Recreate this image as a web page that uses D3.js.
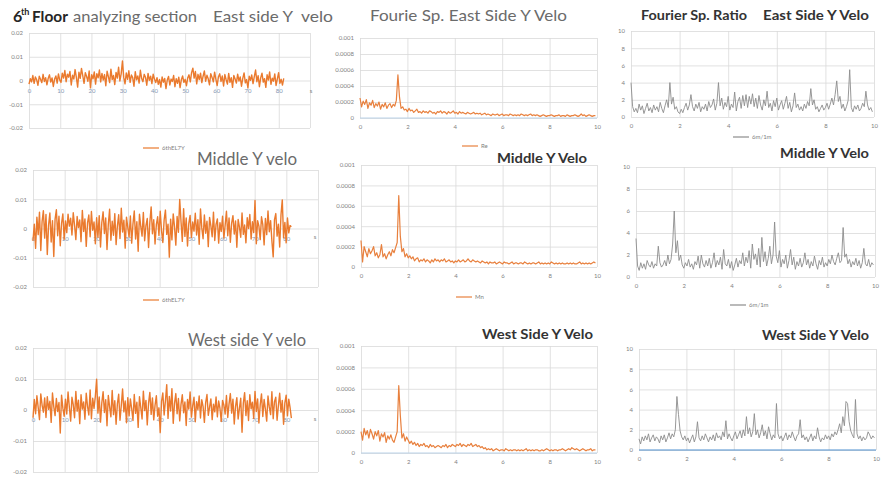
<!DOCTYPE html>
<html>
<head>
<meta charset="utf-8">
<script src="https://cdn.jsdelivr.net/npm/d3@7"></script>
<style>
  body { margin: 0; background: #fff; }
  svg { display: block; }
  text { font-family: Lato, "Open Sans", "Liberation Sans", sans-serif; white-space: pre; }
</style>
</head>
<body>
<svg id="chart" width="883" height="478"></svg>
<script>
// ---- axes ----
const timeStep = 0.41;                       // s between velocity samples
const timeTicks = [0, 10, 20, 30, 40, 50, 60, 70, 80, 90];
const timeTickLabels = ["0", "10", "20", "30", "40", "50", "60", "70", "80", ""];
const veloTicks = [-0.02, -0.01, 0, 0.01, 0.02];
const veloTickLabels = ["-0.02", "-0.01", "0", "0.01", "0.02"];

const freqStep = 10 / 150;                   // Hz between spectral lines
const freqTicks = [0, 2, 4, 6, 8, 10];
const specTicks = [0, 0.0002, 0.0004, 0.0006, 0.0008, 0.001];
const specTickLabels = ["0", "0.0002", "0.0004", "0.0006", "0.0008", "0.001"];
const ratioTicks = [0, 2, 4, 6, 8, 10];

// ---- velocity records, 6th floor (units of 0.001) ----
const eastVelo = [
  -1.5, 0.8, -0.6, 2.1, -1.2, 1.5, 0.3, -2.0, 1.8, 0.5, -0.9, 2.6, -0.4, 1.2, -1.8, 0.9, 2.4, -0.7, 1.1, -2.5, 0.6, 1.9, -1.1, 2.8, 0.2,
  -0.8, 3.1, 1.0, 4.2, -0.5, 2.7, 1.4, 3.8, -1.9, 2.2, 0.6, 4.6, 1.3, -2.8, 3.5, 0.9, 5.1, 2.0, -1.2, 3.3, 1.7, -0.3, 4.0, -3.1, 2.4,
  0.7, 3.6, -1.5, 2.9, 1.1, 4.4, -0.6, 3.0, 0.2, 2.5, -2.2, 3.9, 1.6, -0.9, 4.8, 0.4, 2.1, -1.7, 3.4, 1.0, 5.6, -0.2, 2.8, 8.2, 1.3,
  -1.4, 3.2, 0.5, 4.1, -0.8, 2.3, 1.2, -2.4, 3.7, 0.3, 1.9, -1.1, 4.3, 0.8, -0.5, 2.6, 1.4, -2.0, 3.0, 0.1, 1.8, -1.3, 2.7, 0.6, -0.9,
  1.2, -1.6, 0.4, -2.8, 1.5, -0.7, 0.9, -3.4, 0.2, 1.7, -1.9, 0.6, -0.4, 2.1, -2.6, 0.8, -1.2, 1.4, -3.0, 0.3, 1.9, -0.8, 0.5, -2.2, 1.1,
  2.4, -0.6, 3.3, 5.2, 1.0, 3.8, -1.4, 2.6, 0.4, 3.1, -0.9, 1.8, 4.0, -0.3, 2.2, 0.7, -1.8, 2.9, 1.3, -0.6, 3.5, 0.5, -2.1, 1.6, 2.8,
  -0.4, 1.9, -2.3, 2.5, 0.3, -1.5, 3.0, -0.8, 1.2, -2.9, 2.1, 0.6, -1.1, 2.7, -0.2, 1.5, -2.4, 0.9, 3.2, -1.0, 0.4, -3.1, 1.8, 0.1, 2.3,
  -1.3, 1.6, 4.4, -0.5, 2.0, -2.6, 1.1, 3.1, -0.7, 0.8, -2.9, 2.4, 0.2, 3.6, -1.6, 1.0, -0.3, 2.8, -2.1, 0.7, 3.3, -1.2, 0.5, -1.9, 0.9
];
const middleVelo = [
  -4.2, 1.5, -6.8, 3.9, -2.1, 5.6, -7.5, 2.4, 6.1, -3.3, 4.8, -8.9, 1.2, 5.3, -4.6, 2.7, -9.6, 3.1, 6.4, -2.5, 4.2, -5.9, 1.8, 5.0, -3.7,
  2.6, -1.4, 4.9, 0.8, 3.5, -2.2, 5.4, 1.1, -3.8, 4.1, 0.3, 2.9, -4.5, 6.2, -1.0, 3.3, -6.1, 1.9, 4.6, -2.8, 5.8, -0.6, 2.2, -5.2, 3.7,
  -3.0, 4.4, -6.3, 2.0, 5.7, -1.7, 3.6, -7.2, 1.4, 6.6, -4.0, 2.5, -2.3, 5.1, -5.5, 0.9, 4.7, -3.4, 6.9, -1.2, 2.8, -6.7, 3.9, 0.4, -2.9,
  4.3, -5.0, 1.6, 6.0, -3.6, 2.3, -7.8, 4.9, 0.7, -2.6, 5.5, -4.2, 1.0, 3.4, -6.5, 2.1, 7.4, -1.8, 3.0, -5.3, 1.3, 4.0, -2.4, 5.9, -0.8,
  -4.8, 2.9, 6.3, -2.0, 1.5, -9.8, 3.2, -3.9, 5.0, 0.6, -5.7, 4.1, -1.3, 9.9, 2.4, -4.4, 6.8, -2.7, 3.6, -6.0, 1.7, 4.5, -3.1, 2.2, -0.9,
  5.2, -2.2, 3.0, -5.4, 6.7, 0.2, -3.5, 4.6, -1.6, 2.5, -6.2, 3.8, 0.9, -2.8, 5.6, -4.1, 1.4, 3.3, -5.0, 2.0, -1.0, 4.2, -3.3, 1.1, 5.9,
  -2.5, 3.6, -4.7, 1.8, 4.4, -1.9, 2.6, -6.4, 3.1, 0.5, -3.0, 5.3, -2.0, 1.2, -4.9, 3.7, 0.0, 4.8, -3.6, 2.3, -1.4, 9.6, -5.2, 2.7, 0.8,
  -3.8, 4.0, 1.3, -5.6, 3.4, -2.1, 6.0, -1.1, 2.7, -4.3, -9.7, 3.0, 5.1, -2.6, 1.5, -6.3, 4.6, 9.8, -3.2, 2.1, -4.9, 3.6, -1.5, 1.0, 0.6
];
const westVelo = [
  -2.5, 3.4, -1.2, 4.6, 0.8, -3.1, 5.2, 1.6, -0.7, 3.9, -2.4, 4.3, 0.2, 2.8, -4.0, 5.5, 1.1, -1.8, 3.7, -0.5, 2.4, -7.4, 4.8, 0.6, -2.0,
  3.5, -1.3, 5.8, 0.9, -3.6, 4.1, 1.7, -2.5, 6.0, -0.4, 3.2, -4.4, 4.9, 0.3, 2.6, -3.0, 5.4, 1.2, -1.6, 6.5, -2.8, 3.8, 0.5, 4.4, 9.9,
  -1.0, 4.2, -3.9, 2.3, 5.9, -0.8, 3.3, -5.1, 4.7, 1.0, -2.2, 6.3, -1.5, 3.0, -4.6, 2.0, 5.1, -3.3, 1.4, 6.8, -0.6, 2.9, -4.1, 4.0, -1.9,
  3.6, 0.4, -3.4, 5.0, -1.1, 2.5, -5.6, 4.3, 0.8, -2.9, 6.1, -0.2, 3.1, -4.8, 2.2, 5.7, -1.4, 3.9, -3.2, 1.5, 4.6, -2.0, 0.7, -7.3, 2.8,
  5.5, -1.6, 3.0, 8.2, -2.7, 4.4, -0.3, 6.9, -4.3, 2.1, 5.3, -1.2, 3.7, -3.5, 1.8, 4.9, -0.9, 2.6, -5.0, 3.4, 0.3, 5.8, -2.3, 1.3, 4.1,
  -3.8, 2.7, 0.1, 4.5, -2.6, 3.3, 1.1, -4.0, 2.4, 5.0, -1.7, 0.9, 3.6, -3.1, 1.9, -0.6, 4.2, -2.2, 2.9, 0.5, -3.7, 3.1, 1.6, -1.3, 4.7,
  -2.4, 2.0, 5.3, -1.0, 3.5, -4.5, 1.2, 4.0, -2.9, 0.6, 3.8, -7.2, 2.2, 5.6, -1.8, 3.0, -3.4, 4.9, 0.4, 2.5, -2.7, 6.0, -0.5, 3.6, -4.2,
  1.7, 5.2, -2.1, 3.4, 0.2, -3.6, 4.5, 1.0, -1.5, 5.9, -2.8, 2.7, 4.1, -3.3, 1.4, 5.4, -0.7, 3.1, -4.6, 2.3, 4.8, -1.9, 3.5, 0.8, -2.6
];

// ---- Fourier amplitude spectra (units of 0.00001) ----
const eastSpec = [
  25, 14, 21, 17, 23, 12, 19, 16, 22, 13, 18, 15, 20, 11, 17, 14, 19, 12, 16, 18, 13, 17, 15, 22, 54,
  26, 12, 14, 10, 11, 8, 12, 9, 10, 7, 9, 11, 7, 8, 6, 9, 7, 8, 6, 9, 8, 6, 7, 5, 8,
  7, 9, 6, 8, 7, 5, 8, 6, 7, 9, 6, 7, 5, 8, 6, 7, 6, 5, 7, 6, 5, 6, 7, 5, 6,
  5, 6, 4, 5, 6, 4, 5, 4, 3, 5, 4, 4, 5, 3, 4, 5, 3, 4, 4, 3, 5, 4, 3, 4, 3,
  4, 3, 5, 4, 3, 4, 3, 4, 5, 3, 4, 3, 4, 3, 2, 3, 4, 3, 2, 3, 3, 4, 3, 2, 3,
  3, 4, 2, 3, 3, 2, 4, 3, 2, 3, 3, 4, 3, 2, 3, 5, 3, 4, 2, 3, 4, 3, 2, 3, 3
];
const middleSpec = [
  26, 5, 20, 15, 10, 18, 13, 16, 20, 11, 14, 9, 12, 22, 10, 13, 8, 12, 15, 11, 17, 14, 19, 24, 70,
  30, 15, 18, 10, 13, 9, 11, 8, 10, 6, 8, 9, 5, 7, 6, 8, 5, 7, 6, 4, 7, 5, 8, 6, 7,
  5, 7, 6, 8, 5, 6, 7, 5, 6, 4, 6, 5, 7, 5, 6, 7, 5, 6, 8, 6, 5, 7, 6, 5, 6,
  5, 4, 6, 5, 4, 5, 3, 5, 4, 4, 5, 3, 4, 5, 4, 3, 5, 4, 4, 3, 4, 5, 3, 4, 4,
  3, 4, 4, 3, 5, 4, 3, 4, 3, 4, 4, 3, 4, 5, 3, 4, 3, 4, 3, 4, 3, 5, 4, 3, 4,
  3, 4, 3, 4, 3, 3, 4, 3, 4, 3, 4, 3, 3, 4, 5, 3, 4, 3, 4, 3, 4, 3, 4, 5, 4
];
const westSpec = [
  20, 12, 23, 17, 21, 14, 22, 18, 13, 20, 16, 21, 11, 18, 15, 19, 10, 16, 13, 17, 12, 10, 15, 20, 63,
  35, 14, 18, 11, 15, 12, 9, 11, 8, 10, 7, 9, 6, 8, 7, 9, 6, 7, 5, 8, 6, 7, 5, 6, 7,
  6, 5, 7, 6, 8, 5, 7, 6, 8, 7, 6, 8, 7, 9, 6, 8, 7, 6, 8, 7, 9, 6, 7, 8, 6,
  7, 5, 6, 4, 5, 3, 4, 3, 4, 2, 3, 4, 3, 2, 3, 3, 2, 4, 3, 2, 3, 2, 3, 3, 2,
  3, 2, 3, 2, 3, 4, 2, 3, 2, 3, 2, 3, 3, 2, 2, 3, 2, 3, 4, 3, 2, 3, 2, 3, 3,
  2, 3, 3, 4, 3, 2, 3, 4, 3, 5, 4, 3, 4, 3, 2, 3, 4, 3, 2, 3, 3, 4, 2, 3, 3
];

// ---- Fourier spectral ratios 6th floor / 1st floor ----
const eastRatio = [
  4.0, 1.2, 0.6, 1.0, 0.5, 1.5, 0.8, 1.3, 0.4, 1.0, 1.6, 0.7, 1.1, 0.5, 1.4,
  0.8, 1.2, 0.6, 1.7, 1.0, 0.5, 1.3, 2.0, 1.1, 4.0, 1.5, 2.3, 0.9, 1.2, 0.6,
  0.4, 0.9, 0.5, 1.1, 1.6, 0.8, 1.4, 2.6, 1.2, 0.7, 1.5, 1.0, 1.7, 0.6, 1.2,
  0.9, 1.5, 0.7, 1.8, 1.1, 1.4, 2.1, 0.8, 1.6, 4.0, 1.3, 2.2, 0.9, 1.7, 1.2,
  2.4, 0.8, 1.5, 1.1, 2.9, 0.7, 1.8, 2.3, 1.0, 2.5, 1.3, 2.6, 1.1, 2.4, 1.5,
  2.7, 1.2, 2.2, 1.0, 2.5, 1.4, 0.8, 2.0, 1.3, 3.0, 1.1, 1.6, 0.7, 1.9, 1.2,
  2.2, 0.8, 1.4, 1.9, 0.9, 1.6, 2.4, 1.0, 1.7, 0.6, 1.3, 2.8, 1.1, 1.5, 0.8,
  1.2, 0.7, 1.5, 1.0, 1.8, 1.3, 3.3, 1.4, 2.0, 0.9, 1.2, 0.6, 1.0, 1.4, 0.8,
  1.1, 1.6, 0.9, 1.5, 2.2, 1.4, 2.6, 4.2, 1.8, 2.4, 1.0, 1.5, 0.7, 1.2, 1.9,
  5.5, 1.1, 0.6, 1.3, 0.9, 1.4, 0.7, 1.0, 1.6, 1.2, 3.0, 1.4, 0.8, 1.1, 0.6
];
const middleRatio = [
  3.5, 1.0, 0.6, 1.3, 0.8, 1.2, 0.7, 1.5, 1.1, 0.9, 1.4, 0.8, 1.2, 1.0, 2.8,
  1.3, 0.9, 1.1, 1.5, 1.0, 2.0, 1.2, 1.6, 3.0, 6.0, 2.2, 3.3, 1.5, 2.0, 1.1,
  0.8, 1.3, 1.0, 1.6, 0.9, 1.2, 0.7, 1.4, 1.1, 1.9, 0.8, 2.0, 1.2, 0.9, 1.5,
  1.0, 1.7, 0.8, 1.3, 2.2, 0.9, 1.5, 1.1, 1.8, 0.7, 2.5, 1.2, 1.0, 1.6, 0.8,
  1.4, 0.6, 1.1, 1.7, 0.9, 1.5, 1.2, 2.2, 1.0, 1.8, 1.3, 2.4, 0.8, 3.0, 1.6,
  2.1, 1.1, 2.6, 0.9, 3.6, 1.4, 2.3, 1.0, 1.7, 2.8, 1.2, 2.0, 5.0, 1.9, 1.3,
  2.4, 0.9, 1.6, 1.2, 2.0, 0.8, 1.5, 2.5, 1.1, 1.8, 0.7, 1.4, 1.0, 1.7, 0.9,
  1.3, 2.2, 1.1, 1.6, 0.8, 1.4, 1.0, 1.9, 1.2, 0.7, 1.5, 1.1, 1.8, 0.9, 1.3,
  1.0, 1.6, 1.2, 2.0, 1.4, 1.1, 1.7, 2.2, 1.3, 1.5, 4.5, 1.8, 2.1, 1.2, 1.6,
  0.9, 1.4, 1.1, 1.7, 1.0, 1.5, 0.8, 1.3, 2.6, 1.2, 1.0, 1.6, 0.9, 1.3, 1.1
];
const westRatio = [
  1.1, 0.6, 1.3, 0.9, 1.4, 1.0, 1.6, 0.8, 1.2, 1.5, 0.9, 1.3, 1.1, 0.7, 1.4,
  1.0, 1.5, 0.8, 1.2, 1.7, 1.1, 1.6, 1.3, 2.0, 5.3, 3.5, 1.9, 1.3, 1.0, 1.4,
  0.9, 1.2, 0.7, 1.1, 1.5, 0.8, 1.3, 2.8, 1.2, 0.9, 1.4, 1.0, 1.6, 1.2, 0.8,
  1.3, 1.0, 1.5, 0.9, 1.7, 1.2, 1.4, 1.0, 1.8, 1.3, 2.9, 1.1, 1.6, 1.2, 0.9,
  1.4, 1.8, 1.1, 1.5, 1.9, 1.2, 2.0, 1.4, 3.3, 1.6, 2.2, 1.3, 1.8, 3.6, 1.5,
  2.0, 1.2, 1.7, 2.5, 1.4, 1.9, 1.1, 2.3, 1.6, 1.0, 1.5, 1.2, 4.6, 1.6, 1.1,
  1.4, 0.9, 1.3, 1.7, 1.0, 1.5, 1.2, 1.8, 1.3, 0.9, 1.4, 1.6, 3.0, 1.2, 1.5,
  1.0, 1.3, 0.8, 1.2, 1.6, 0.9, 1.4, 1.1, 2.2, 1.3, 0.8, 1.2, 1.0, 1.5, 1.1,
  1.4, 1.0, 1.6, 1.3, 1.8, 1.5, 2.0, 2.6, 1.7, 3.3, 2.4, 4.8, 4.6, 2.8, 1.9,
  1.5, 1.2, 5.0, 1.6, 1.1, 1.4, 0.9, 1.3, 1.0, 1.2, 1.8, 1.5, 1.1, 1.4, 1.2
];

// ---- drawing ----
const svg = d3.select("#chart");
const ORANGE = "#ea7a2e";
const GRID = "#d9d9d9";
const TICK_TEXT = "#7f7f7f";

function styleAxis(sel, fontSize) {
  sel.select(".domain").remove();
  sel.selectAll(".tick line").attr("stroke", GRID).attr("stroke-width", 0.8);
  sel.selectAll(".tick text").attr("fill", TICK_TEXT).attr("font-size", fontSize);
}

function drawPanel(p) {
  const g = svg.append("g");
  const x = d3.scaleLinear().domain(p.xDomain).range([p.left, p.right]);
  const y = d3.scaleLinear().domain(p.yDomain).range([p.bottom, p.top]);

  // horizontal gridlines + value labels
  const yAxis = g.append("g").attr("transform", `translate(${p.left},0)`)
    .call(d3.axisLeft(y).tickValues(p.yTicks).tickSize(-(p.right - p.left))
      .tickPadding(6).tickFormat((d, i) => p.yLabels[i]));
  styleAxis(yAxis, 6);

  // vertical gridlines
  const xGrid = g.append("g").attr("transform", `translate(0,${p.bottom})`)
    .call(d3.axisBottom(x).tickValues(p.xTicks).tickSize(-(p.bottom - p.top)).tickFormat(""));
  styleAxis(xGrid, 6);

  // category labels: along the zero line for the velocity records, under the plot for spectra
  const labelY = p.labelsOnZero ? y(0) : p.bottom;
  const xLab = g.append("g").attr("transform", `translate(0,${labelY})`)
    .call(d3.axisBottom(x).tickValues(p.xTicks).tickSize(0).tickPadding(p.labelsOnZero ? 8 : 7)
      .tickFormat((d, i) => p.xLabels[i]));
  xLab.select(".domain").remove();
  xLab.selectAll(".tick text").attr("fill", p.labelsOnZero ? "#8597b3" : TICK_TEXT).attr("font-size", 6);

  if (p.baseline) {
    g.append("line").attr("x1", p.left).attr("x2", p.right)
      .attr("y1", y(0)).attr("y2", y(0)).attr("stroke", p.baseline).attr("stroke-width", 1.2);
  }

  const line = d3.line().x((d, i) => x(i * p.step)).y(d => y(d * p.unit));
  g.append("path").datum(p.values).attr("d", line)
    .attr("fill", "none").attr("stroke", p.color).attr("stroke-width", p.width)
    .attr("stroke-linejoin", "round");

  if (p.axisTitle) {
    g.append("text").attr("x", p.axisTitle[0]).attr("y", p.axisTitle[1])
      .attr("font-size", 6).attr("fill", TICK_TEXT).attr("text-anchor", "middle").text(p.axisTitle[2]);
  }

  if (p.legend) {
    const [lx, ly, name] = p.legend;
    g.append("line").attr("x1", lx).attr("x2", lx + 16).attr("y1", ly).attr("y2", ly)
      .attr("stroke", p.color).attr("stroke-width", 1.2);
    g.append("text").attr("x", lx + 19).attr("y", ly + 2).attr("font-size", 6)
      .attr("fill", TICK_TEXT).text(name);
  }
}

function title(x, y, str, size, opts = {}) {
  const t = svg.append("text").attr("x", x).attr("y", y).attr("font-size", size)
    .attr("fill", opts.fill || "#6b6b6b").attr("font-weight", opts.bold ? 700 : 400).text(str);
  if (opts.width) t.attr("textLength", opts.width).attr("lengthAdjust", "spacingAndGlyphs");
  return t;
}

const veloPanels = [
  { values: eastVelo,   left: 29, right: 310, top: 33,  bottom: 128, legend: [143, 148, "6thEL7Y"], axisTitle: [311, 93, "s"] },
  { values: middleVelo, left: 33, right: 318, top: 170, bottom: 287, legend: [143, 300, "6thEL7Y"], axisTitle: [315, 239, "s"] },
  { values: westVelo,   left: 33, right: 318, top: 348, bottom: 472, legend: null,                 axisTitle: [315, 421, "s"] }
];
veloPanels.forEach(p => drawPanel(Object.assign({
  xDomain: [0, 90], yDomain: [-0.02, 0.02], xTicks: timeTicks, xLabels: timeTickLabels,
  yTicks: veloTicks, yLabels: veloTickLabels, labelsOnZero: true,
  step: timeStep, unit: 0.001, color: ORANGE, width: 1.4
}, p)));

const specPanels = [
  { values: eastSpec,   left: 360, right: 597, top: 38,  bottom: 118, legend: [462, 146, "Re"], baseline: "#bcd3ea" },
  { values: middleSpec, left: 361, right: 597, top: 165, bottom: 267, legend: [456, 297, "Mn"] },
  { values: westSpec,   left: 361, right: 597, top: 346, bottom: 453, legend: null, baseline: "#bcd3ea" }
];
specPanels.forEach(p => drawPanel(Object.assign({
  xDomain: [0, 10], yDomain: [0, 0.001], xTicks: freqTicks, xLabels: freqTicks.map(String),
  yTicks: specTicks, yLabels: specTickLabels, labelsOnZero: false,
  step: freqStep, unit: 0.00001, color: "#e8803e", width: 1.2
}, p)));

const ratioPanels = [
  { values: eastRatio,   left: 631, right: 874, top: 31,  bottom: 117, legend: [733, 137, "6m/1m"] },
  { values: middleRatio, left: 636, right: 875, top: 167, bottom: 277, legend: [730, 305, "6m/1m"] },
  { values: westRatio,   left: 639, right: 876, top: 349, bottom: 450, legend: null, baseline: "#4f8fd0" }
];
ratioPanels.forEach(p => drawPanel(Object.assign({
  xDomain: [0, 10], yDomain: [0, 10], xTicks: freqTicks, xLabels: freqTicks.map(String),
  yTicks: ratioTicks, yLabels: ratioTicks.map(String), labelsOnZero: false,
  step: freqStep, unit: 1, color: "#8c8c8c", width: 0.9
}, p)));

// ---- titles ----
const DARK = "#262626";
title(13, 22, "6", 16, { fill: DARK, bold: true });
title(21, 15, "th", 9, { fill: DARK, bold: true });
title(32, 22, "Floor", 16, { fill: DARK, bold: true, width: 36 });
title(73, 22, "analyzing section", 16, { width: 124 });
title(213, 22, "East side Y", 16, { width: 80 });
title(301, 22, "velo", 16, { width: 32 });

title(370, 21, "Fourie Sp. East Side Y Velo", 15, { width: 197 });
title(641, 20, "Fourier Sp. Ratio", 14, { fill: "#333", bold: true, width: 106 });
title(763, 20, "East Side Y Velo", 14, { fill: "#333", bold: true, width: 106 });

title(197, 165, "Middle Y velo", 17, { width: 100 });
title(497, 163, "Middle Y Velo", 14, { fill: "#333", bold: true, width: 90 });
title(780, 158, "Middle Y Velo", 14, { fill: "#333", bold: true, width: 89 });

title(188, 346, "West side Y velo", 17, { width: 118 });
title(482, 339, "West Side Y Velo", 14, { fill: "#333", bold: true, width: 111 });
title(762, 340, "West Side Y Velo", 14, { fill: "#333", bold: true, width: 107 });
</script>
</body>
</html>
